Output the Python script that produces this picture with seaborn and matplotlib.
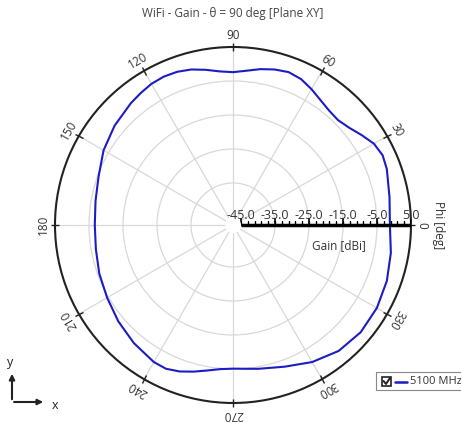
import numpy as np
import pandas as pd
import matplotlib
matplotlib.use("Agg")
import matplotlib.pyplot as plt
import seaborn as sns
from matplotlib.patches import Rectangle, FancyArrowPatch
from matplotlib.lines import Line2D

# Gain pattern, theta = 90 deg (plane XY), 5100 MHz
phi_deg = [0, 10, 20, 25, 30, 35, 40, 45, 50, 55, 60, 65, 70, 75, 80, 85,
           90, 95, 100, 105, 110, 115, 120, 125, 130, 140, 150, 160, 170,
           180, 190, 200, 210, 220, 230, 240, 245, 250, 255, 260, 265, 270,
           275, 280, 290, 300, 310, 320, 330, 340, 350]
gain_dbi = [-1.2, -0.6, 0.8, 1.2, 0.5, -1.2, -2.8, -3.7, -3.4, -2.5, -1.2,
            0.0, 0.5, 0.0, -0.8, -1.8, -2.4, -2.0, -1.0, 0.0, 0.6, 0.8, 0.6,
            0.0, -0.6, -1.9, -3.4, -5.3, -6.3, -6.7, -6.4, -5.5, -4.6, -3.3,
            -2.0, -0.8, -0.7, -1.5, -2.7, -3.9, -4.8, -5.1, -4.9, -4.4, -3.0,
            -0.8, 1.0, 1.7, 1.5, 0.8, -0.2]

gain_labels = [-45, -35, -25, -15, -5, 5]
gain_minor = list(range(-45, 6, 2))
grid_rings = [-35, -25, -15, -5]
phi_ticks = list(range(0, 360, 30))

sns.set_style("white")
plt.rcParams['font.family'] = ['Open Sans', 'DejaVu Sans']

fig = plt.figure(figsize=(4.61, 4.23), dpi=100)
ax = fig.add_axes([0.1193, 0.0473, 0.7722, 0.8416], projection='polar')

df = pd.DataFrame({
    'phi': np.deg2rad(phi_deg + [360]),
    'gain': gain_dbi + [gain_dbi[0]],
})
sns.lineplot(data=df, x='phi', y='gain', sort=False, estimator=None,
             color='#1c1cc4', lw=1.5, ax=ax)

ax.set_ylim(-45, 5)
ax.set_rorigin(-47.35)
ax.set_xlabel('')
ax.set_ylabel('')

ax.set_yticks(grid_rings)
ax.set_yticklabels([])
ax.set_xticks(np.deg2rad(phi_ticks))
ax.set_xticklabels([])
ax.grid(True, color='#d8d8d8', lw=0.9)
ax.tick_params(axis='x', which='both', length=3, width=1, direction='inout',
               color='#222222', bottom=False, top=True)
ax.tick_params(axis='y', length=0)
ax.spines['polar'].set_color('#222222')
ax.spines['polar'].set_linewidth(1.5)
ax.spines['inner'].set_color('none')
ax.spines['inner'].set_visible(False)

# angle labels, tangential
for a in phi_ticks:
    ax.text(np.deg2rad(a), 8.3, str(a), rotation=a - 90, rotation_mode='anchor',
            ha='center', va='center', fontsize=8.5, color='#333333')

# radial gain axis along phi = 0
ax.plot([0, 0], [-45, 5], color='black', lw=2.5, solid_capstyle='butt', zorder=5)
ax.plot(np.zeros(len(gain_minor)), gain_minor, ls='none', marker=2, ms=3,
        mew=1, color='black', zorder=5)
ax.plot(np.zeros(len(gain_labels)), gain_labels, ls='none', marker=2, ms=5,
        mew=1.2, color='black', zorder=5)
for v in gain_labels:
    ax.annotate(f"{v:.1f}", xy=(0, v), xytext=(0, 7), textcoords='offset points',
                ha='center', va='center', fontsize=9, color='#333333',
                zorder=6, annotation_clip=False)

fig.text(339 / 461, 1 - 246 / 423, 'Gain [dBi]', ha='center', va='center',
         fontsize=8.5, color='#333333')
fig.text(438 / 461, 1 - 225 / 423, 'Phi [deg]', rotation=-90, ha='center',
         va='center', fontsize=8.5, color='#333333')
fig.text(233 / 461, 1 - 13 / 423, 'WiFi - Gain - \u03b8 = 90 deg [Plane XY]',
         ha='center', va='center', fontsize=8.5, color='#444444')

# legend box
W, H = 461, 423
fig.patches.append(Rectangle((376 / W, 1 - 390 / H), 100 / W, 18 / H,
                             transform=fig.transFigure, fill=True, fc='white',
                             ec='#888888', lw=0.8))
fig.patches.append(Rectangle((382 / W, 1 - 386 / H), 9 / W, 9 / H,
                             transform=fig.transFigure, fill=True, fc='white',
                             ec='#222222', lw=1.2))
fig.lines.append(Line2D([383.5 / W, 386 / W, 390 / W],
                        [1 - 381 / H, 1 - 384 / H, 1 - 378 / H],
                        transform=fig.transFigure, color='#222222', lw=1.4))
fig.lines.append(Line2D([395 / W, 407 / W], [1 - 381.5 / H, 1 - 381.5 / H],
                        transform=fig.transFigure, color='#1c1cc4', lw=1.8))
fig.text(410 / W, 1 - 381.5 / H, '5100 MHz', ha='left', va='center',
         fontsize=8, color='#333333')

# axis triad
fig.patches.append(FancyArrowPatch(
    (12 / W, 1 - 402 / H), (12 / W, 1 - 371 / H), transform=fig.transFigure,
    arrowstyle='-|>', mutation_scale=8, lw=1.5, color='#222222'))
fig.patches.append(FancyArrowPatch(
    (11.3 / W, 1 - 402 / H), (46 / W, 1 - 402 / H), transform=fig.transFigure,
    arrowstyle='-|>', mutation_scale=8, lw=1.5, color='#222222'))
fig.text(10 / W, 1 - 362 / H, 'y', ha='center', va='center', fontsize=9,
         color='#222222')
fig.text(55 / W, 1 - 405 / H, 'x', ha='center', va='center', fontsize=9,
         color='#222222')

fig.savefig('out.png', dpi=100)
